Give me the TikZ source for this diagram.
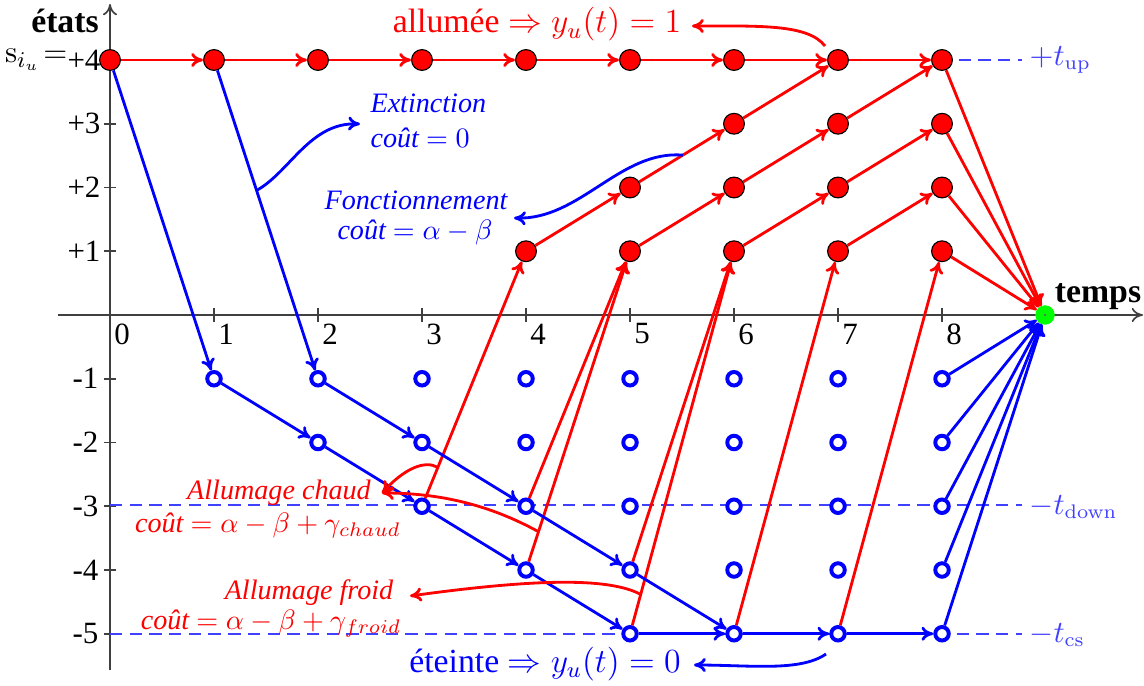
\documentclass[tikz,border=0pt]{standalone}
\usepackage[no-math]{fontspec}
\setmainfont{Liberation Serif}
\usetikzlibrary{arrows.meta}
\begin{document}
\begin{tikzpicture}[x=0.0125cm,y=-0.0125cm,
  every node/.style={font=\fontsize{11}{13}\selectfont},
  rn/.style={circle,draw=black,fill=red,line width=0.4pt,minimum size=7.4pt,inner sep=0pt},
  bn/.style={circle,draw=blue,fill=white,line width=1.4pt,minimum size=4.8pt,inner sep=0pt},
  tipstyle/.style={-{To[length=4.2pt,width=5pt]}},
  rarr/.style={red,line width=1pt,tipstyle},
  barr/.style={blue,line width=1pt,tipstyle},
  axis/.style={black!75,line width=0.6pt},
  dline/.style={blue!75,line width=0.6pt,dash pattern=on 4.4pt off 2.6pt},
  lab/.style={blue!75,font=\fontsize{10.5}{12}\selectfont},
  rann/.style={red,font=\fontsize{10}{12}\selectfont\itshape,inner sep=0pt,anchor=base},
  bann/.style={blue,font=\fontsize{10}{12}\selectfont\itshape,inner sep=0pt,anchor=base},
  ticklab/.style={inner sep=0pt},
  big/.style={font=\fontsize{12}{14}\selectfont,inner sep=0pt,anchor=base},
  bold/.style={font=\fontsize{12}{14}\selectfont\bfseries,inner sep=0pt,anchor=base}
  ]
\useasboundingbox (0,0) rectangle (1144,686);

% axes
\coordinate (xa0) at (58,315);
\coordinate (xa1) at (1143,315);
\coordinate (ya0) at (110,670);
\coordinate (ya1) at (110,4);
\draw[axis,-{To[length=4pt,width=5pt]}] (xa0) -- (xa1);
\draw[axis,-{To[length=4pt,width=5pt]}] (ya0) -- (ya1);
\foreach \ti in {1,...,8} {
  \draw[axis] ({110+104*\ti},308) -- ({110+104*\ti},322);
}
\foreach \ti in {0,...,8} {
  \node[ticklab] (tl\ti) at ({122+104*\ti},334) {\ti};
}
\foreach \si in {1,...,4} {
  \draw[axis] (104,{315-63.75*\si}) -- (116,{315-63.75*\si});
  \draw[axis] (104,{315+63.75*\si}) -- (116,{315+63.75*\si});
  \node[ticklab,anchor=east] (yp\si) at (101,{315-63.75*\si}) {+\si};
  \node[ticklab,anchor=east] (yn\si) at (99,{315+63.75*\si}) {-\si};
}
\draw[axis] (104,633.75) -- (116,633.75);
\node[ticklab,anchor=east] (yn5) at (99,633.75) {-5};
\node[ticklab,anchor=east] (sdef) at (68,60) {$\mathrm{s}_{i_u}\!=$};
\node[bold] (etats) at (65,33) {états};
\node[bold] (temps) at (1098,303) {temps};

% dashed guide lines
\coordinate (tup) at (1022,60);
\coordinate (d3a) at (110,505.25);
\coordinate (d3b) at (1022,505.25);
\coordinate (d5a) at (110,633.75);
\coordinate (d5b) at (1022,633.75);
\draw[dline] (d3a) -- (d3b);
\draw[dline] (d5a) -- (d5b);
\node[lab,anchor=west,inner sep=0pt] (ltup) at (1029,60) {$+t_{\mathrm{up}}$};
\node[lab,anchor=west,inner sep=0pt] (ltdown) at (1029,507) {$-t_{\mathrm{down}}$};
\node[lab,anchor=west,inner sep=0pt] (ltcs) at (1029,635) {$-t_{\mathrm{cs}}$};

% nodes
\foreach \si/\tmin in {4/0,3/6,2/5,1/4} {
  \foreach \ti in {\tmin,...,8} {
    \node[rn] (p\si x\ti) at ({110+104*\ti},{315-63.75*\si}) {};
  }
}
\foreach \si/\tmin in {1/1,2/2,3/3,4/4,5/5} {
  \foreach \ti in {\tmin,...,8} {
    \node[bn] (n\si x\ti) at ({110+104*\ti},{315+63.75*\si}) {};
  }
}
\node[circle,fill=green,draw=green,line width=0.3pt,minimum size=6.6pt,inner sep=0pt] (sink) at (1045,315) {};
\fill[black!60] (sink.center) circle (0.45pt);

\draw[dline,shorten <=2pt] (p4x8) -- (tup);

% red edges: on row +4
\foreach \ti [evaluate=\ti as \tn using int(\ti+1)] in {0,...,7} {
  \draw[rarr] (p4x\ti) -- (p4x\tn);
}
% red diagonals
\foreach \a/\b in {p1x4/p2x5,p2x5/p3x6,p3x6/p4x7,p1x5/p2x6,p2x6/p3x7,p3x7/p4x8,p1x6/p2x7,p2x7/p3x8,p1x7/p2x8} {
  \draw[rarr] (\a) -- (\b);
}
% start-ups
\foreach \a/\b in {n3x3/p1x4,n3x4/p1x5,n4x4/p1x5,n4x5/p1x6,n5x5/p1x6,n5x6/p1x7,n5x7/p1x8} {
  \draw[rarr] (\a) -- (\b);
}
% to sink
\foreach \a in {p4x8,p3x8,p2x8,p1x8} { \draw[rarr] (\a) -- (sink); }
\foreach \a in {n1x8,n2x8,n3x8,n4x8,n5x8} { \draw[barr] (\a) -- (sink); }
% shut-downs and off states
\foreach \a/\b in {p4x0/n1x1,p4x1/n1x2,n1x1/n2x2,n1x2/n2x3,n2x2/n3x3,n2x3/n3x4,n3x3/n4x4,n3x4/n4x5,n4x4/n5x5,n4x5/n5x6,n5x5/n5x6,n5x6/n5x7,n5x7/n5x8} {
  \draw[barr] (\a) -- (\b);
}

% points on edges for annotations
\path (p4x1) -- (n1x2) coordinate[pos=0.4] (cext);
\path (p2x5) -- (p3x6) coordinate[pos=0.51] (cfon);
\path (n3x3) -- (p1x4) coordinate[pos=0.13] (cch1);
\path (n4x4) -- (p1x5) coordinate[pos=0.10] (cch2);
\path (n5x5) -- (p1x6) coordinate[pos=0.085] (cfr);

% annotations
\node[big,red] (allum) at (537,33) {allumée $\Rightarrow y_u(t)=1$};
\coordinate (a1s) at (825,46);
\coordinate (a1t) at (692,26);
\draw[rarr] (a1s) .. controls (808,24) and (760,26) .. (a1t);

\node[big,blue] (eteint) at (545,672) {éteinte $\Rightarrow y_u(t)=0$};
\coordinate (e1s) at (826,654);
\coordinate (e1t) at (694,665);
\draw[barr] (e1s) .. controls (800,672) and (750,665) .. (e1t);

\node[bann,anchor=base west] (ext1) at (370,113) {Extinction};
\node[bann,anchor=base west] (ext2) at (370,148) {coût $=0$};
\coordinate (extt) at (360,124);
\draw[barr] (cext) .. controls (290,172) and (310,122) .. (extt);

\node[bann] (fon1) at (416,210) {Fonctionnement};
\node[bann] (fon2) at (415,240) {coût $=\alpha-\beta$};
\coordinate (font) at (514,218);
\draw[barr] (cfon) .. controls (620,150) and (580,220) .. (font);

\node[rann] (ch1) at (279,500) {Allumage chaud};
\node[rann] (ch2) at (268,532) {coût $=\alpha-\beta+\gamma_{chaud}$};
\coordinate (cht) at (382,493);
\draw[rarr] (cch1) .. controls (425,460) and (405,468) .. (cht);
\draw[rarr] (cch2) .. controls (490,505) and (440,493) .. (cht);

\node[rann] (fr1) at (309,599) {Allumage froid};
\node[rann] (fr2) at (271,629) {coût $=\alpha-\beta+\gamma_{froid}$};
\coordinate (frt) at (410,596);
\draw[rarr] (cfr) .. controls (610,578) and (540,578) .. (frt);
\end{tikzpicture}
\end{document}
